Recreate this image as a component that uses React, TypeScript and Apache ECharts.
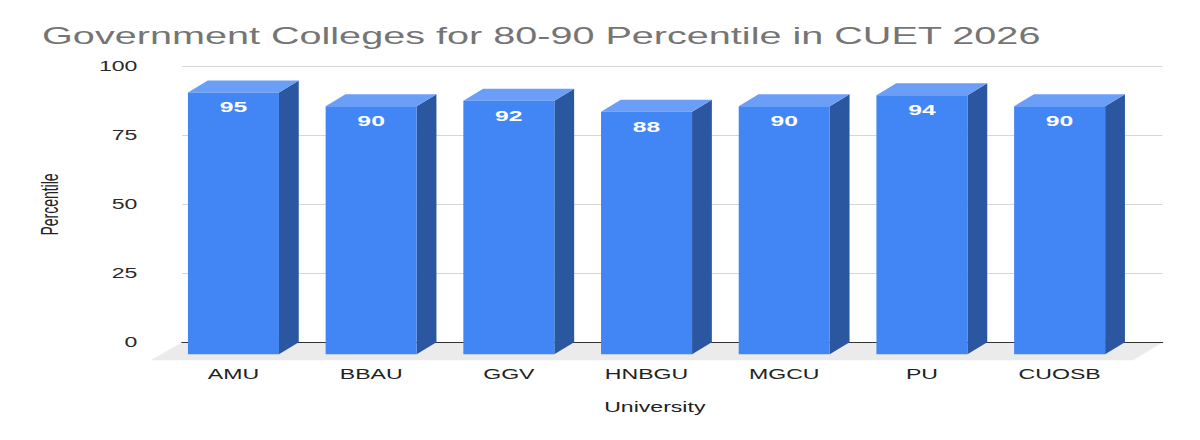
import { useEffect, useRef } from 'react';
import * as echarts from 'echarts';

const categories = ['AMU', 'BBAU', 'GGV', 'HNBGU', 'MGCU', 'PU', 'CUOSB'];
const percentiles = [95, 90, 92, 88, 90, 94, 90];
const yMin = 0;
const yMax = 100;
const yStep = 25;

// the reference is a horizontally stretched picture, so draw narrow and stretch
const STRETCH = 1.65;
const W = 1200 / STRETCH;
const H = 440;
const DEPTH = 12;
const FLOOR = 18;

const FONT = '"Liberation Sans", Arial, sans-serif';

export default function App() {
  const chartRef = useRef<HTMLDivElement>(null);

  useEffect(() => {
    if (!chartRef.current) return;
    const chart = echarts.init(chartRef.current, null, { renderer: 'svg' });

    const gLeft = 110.3;
    const gRight = 22.5;
    const gTop = 66.7;
    const gBottom = 97.7;
    const y0 = H - gBottom;
    const x1 = W - gRight;

    const option: echarts.EChartsOption = {
      animation: false,
      backgroundColor: '#ffffff',
      title: {
        text: 'Government Colleges for 80-90 Percentile in CUET 2026',
        left: 20.5,
        top: 19,
        textStyle: {
          fontFamily: FONT,
          fontSize: 24,
          fontWeight: 'normal',
          color: '#757575',
        },
      },
      graphic: [
        {
          type: 'polygon',
          z: -1,
          shape: {
            points: [
              [gLeft, y0],
              [x1, y0],
              [x1 - FLOOR, y0 + FLOOR],
              [gLeft - FLOOR - 1, y0 + FLOOR],
            ],
          },
          style: { fill: '#ebebeb' },
        },
      ],
      grid: [
        { left: gLeft, right: gRight, top: gTop, bottom: gBottom },
        { left: 99.76, right: W - 684.2, top: gTop, bottom: gBottom },
      ],
      xAxis: [
        {
          gridIndex: 0,
          type: 'value',
          min: 0,
          max: 1,
          axisLine: { show: true, lineStyle: { color: '#333333', width: 1 } },
          axisTick: { show: false },
          axisLabel: { show: false },
          splitLine: { show: false },
        },
        {
          gridIndex: 1,
          type: 'category',
          data: categories,
          name: 'University',
          nameLocation: 'middle',
          nameGap: 58,
          nameTextStyle: {
            fontFamily: FONT,
            fontSize: 14,
            color: '#222222',
            padding: [0, 0, 0, 10],
          },
          axisLine: { show: false },
          axisTick: { show: false },
          axisLabel: {
            fontFamily: FONT,
            fontSize: 14,
            color: '#222222',
            margin: 25,
            interval: 0,
          },
        },
      ],
      yAxis: [
        {
          gridIndex: 0,
          type: 'value',
          min: yMin,
          max: yMax,
          interval: yStep,
          name: 'Percentile',
          nameLocation: 'middle',
          nameGap: 73,
          nameTextStyle: { fontFamily: FONT, fontSize: 14, color: '#222222' },
          axisLine: { show: false },
          axisTick: { show: false },
          axisLabel: { fontFamily: FONT, fontSize: 14, color: '#2a2a2a', margin: 27 },
          splitLine: { lineStyle: { color: '#d6d6d6', width: 1 } },
        },
        {
          gridIndex: 1,
          type: 'value',
          min: yMin,
          max: yMax,
          interval: yStep,
          show: false,
        },
      ],
      series: [
        {
          type: 'custom',
          xAxisIndex: 1,
          yAxisIndex: 1,
          z: 5,
          data: percentiles.map((v, i) => [i, v]),
          renderItem: (params: any, api: any) => {
            const idx = api.value(0);
            const val = api.value(1);
            const top = api.coord([idx, val]);
            const base = api.coord([idx, 0]);
            const w = api.size([1, 0])[0] * 0.661;
            const fl = top[0] - w / 2;
            const fr = top[0] + w / 2;
            const yt = top[1];
            const yb = base[1];
            const d = DEPTH;
            return {
              type: 'group',
              children: [
                {
                  type: 'polygon',
                  shape: {
                    points: [
                      [fr, yt + d],
                      [fr + d, yt],
                      [fr + d, yb],
                      [fr, yb + d],
                    ],
                  },
                  style: { fill: '#2b57a0' },
                },
                {
                  type: 'polygon',
                  shape: {
                    points: [
                      [fl, yt + d],
                      [fr, yt + d],
                      [fr + d, yt],
                      [fl + d, yt],
                    ],
                  },
                  style: { fill: '#6a9ef7' },
                },
                {
                  type: 'rect',
                  shape: { x: fl, y: yt + d, width: w, height: yb - yt },
                  style: { fill: '#4285f4' },
                },
                {
                  type: 'text',
                  style: {
                    text: String(val),
                    x: top[0],
                    y: yt + d + 14.5,
                    align: 'center',
                    verticalAlign: 'middle',
                    fill: '#ffffff',
                    fontFamily: FONT,
                    fontSize: 15,
                    fontWeight: 'bold',
                  },
                },
              ],
            };
          },
        },
      ],
    };

    chart.setOption(option);
    return () => chart.dispose();
  }, []);

  return (
    <div
      style={{
        position: 'fixed',
        left: 0,
        top: 0,
        width: 1200,
        height: H,
        overflow: 'hidden',
        background: '#ffffff',
      }}
    >
      <div
        ref={chartRef}
        style={{
          width: W,
          height: H,
          transform: `scaleX(${STRETCH})`,
          transformOrigin: '0 0',
        }}
      />
    </div>
  );
}
